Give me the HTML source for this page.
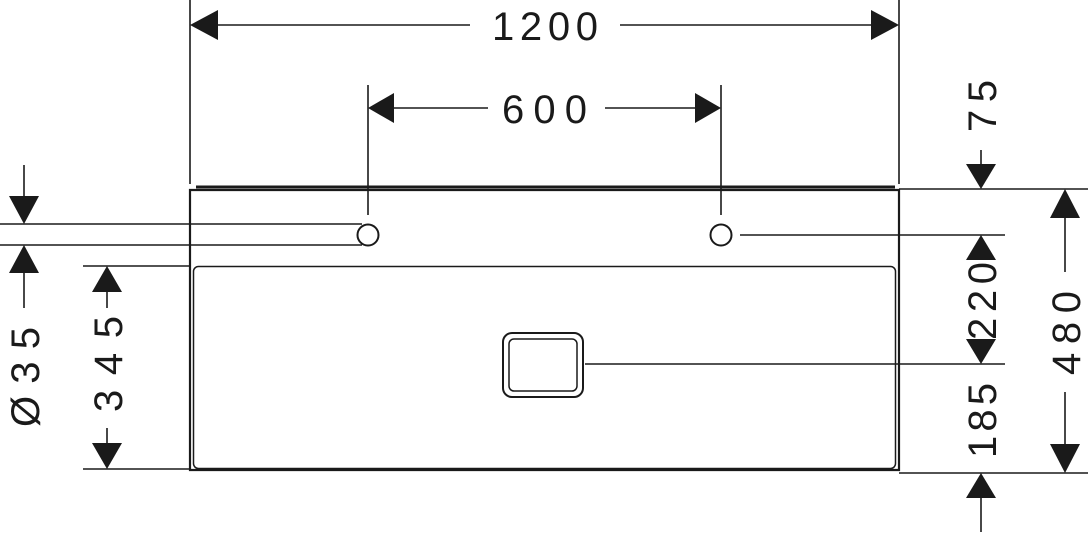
<!DOCTYPE html>
<html><head><style>html,body{margin:0;padding:0;background:#fff}</style></head><body>
<svg width="1090" height="534" viewBox="0 0 1090 534" xmlns="http://www.w3.org/2000/svg" font-family="Liberation Sans, sans-serif" font-size="40">
<g stroke="#1a1a1a" fill="none">
<!-- outer body -->
<line x1="196" y1="187" x2="895" y2="187" stroke-width="3"/>
<path d="M190 470 L190 190 L899 190 L899 470 Z" stroke-width="2.2"/>
<rect x="193.5" y="266.5" width="702" height="202" rx="5" stroke-width="1.5"/>
<!-- holes -->
<circle cx="368" cy="235" r="10.5" stroke-width="2"/>
<circle cx="721" cy="235" r="10.5" stroke-width="2"/>
<!-- drain -->
<rect x="503" y="333" width="80" height="64" rx="9" stroke-width="2"/>
<rect x="509" y="339" width="68" height="52" rx="5" stroke-width="1.5"/>
<g stroke-width="1.6">
<!-- ext lines -->
<line x1="190" y1="0" x2="190" y2="184"/>
<line x1="899" y1="0" x2="899" y2="184"/>
<line x1="368" y1="85" x2="368" y2="215"/>
<line x1="721" y1="85" x2="721" y2="215"/>
<line x1="0" y1="224" x2="362" y2="224"/>
<line x1="0" y1="245" x2="362" y2="245"/>
<line x1="83" y1="266" x2="190" y2="266"/>
<line x1="83" y1="469" x2="190" y2="469"/>
<line x1="899" y1="189" x2="1088" y2="189"/>
<line x1="899" y1="473" x2="1088" y2="473"/>
<line x1="740" y1="235" x2="1005" y2="235"/>
<line x1="585" y1="364" x2="1005" y2="364"/>
<!-- dim lines -->
<line x1="215" y1="25" x2="470" y2="25"/>
<line x1="620" y1="25" x2="875" y2="25"/>
<line x1="390" y1="108" x2="488" y2="108"/>
<line x1="605" y1="108" x2="700" y2="108"/>
<line x1="24" y1="165" x2="24" y2="200"/>
<line x1="24" y1="268" x2="24" y2="308"/>
<line x1="107" y1="290" x2="107" y2="308"/>
<line x1="107" y1="428" x2="107" y2="445"/>
<line x1="981" y1="150" x2="981" y2="165"/>
<line x1="981" y1="497" x2="981" y2="532"/>
<line x1="1065" y1="215" x2="1065" y2="272"/>
<line x1="1065" y1="392" x2="1065" y2="448"/>
</g>
</g>
<g fill="#1a1a1a">
<!-- arrowheads -->
<polygon points="190,25 218,10 218,40"/>
<polygon points="899,25 871,10 871,40"/>
<polygon points="368,108 394,93 394,123"/>
<polygon points="721,108 695,93 695,123"/>
<polygon points="24,224 9,196 39,196"/>
<polygon points="24,245 9,273 39,273"/>
<polygon points="107,266 92,292 122,292"/>
<polygon points="107,469 92,443 122,443"/>
<polygon points="981,189 966,164 996,164"/>
<polygon points="981,235 966,260 996,260"/>
<polygon points="981,364 966,339 996,339"/>
<polygon points="981,473 966,498 996,498"/>
<polygon points="1065,189 1050,218 1080,218"/>
<polygon points="1065,473 1050,444 1080,444"/>
<!-- texts -->
<text x="492" y="40" textLength="106" lengthAdjust="spacing">1200</text>
<text x="502" y="123" textLength="85" lengthAdjust="spacing">600</text>
<text transform="translate(39,427) rotate(-90)" textLength="100" lengthAdjust="spacing">Ø35</text>
<text transform="translate(122,412) rotate(-90)" textLength="96" lengthAdjust="spacing">345</text>
<text transform="translate(996,132) rotate(-90)" textLength="52" lengthAdjust="spacing">75</text>
<text transform="translate(996,340) rotate(-90)" textLength="78" lengthAdjust="spacing">220</text>
<text transform="translate(996,458) rotate(-90)" textLength="75" lengthAdjust="spacing">185</text>
<text transform="translate(1080,375) rotate(-90)" textLength="84" lengthAdjust="spacing">480</text>
</g>
</svg>
</body></html>
